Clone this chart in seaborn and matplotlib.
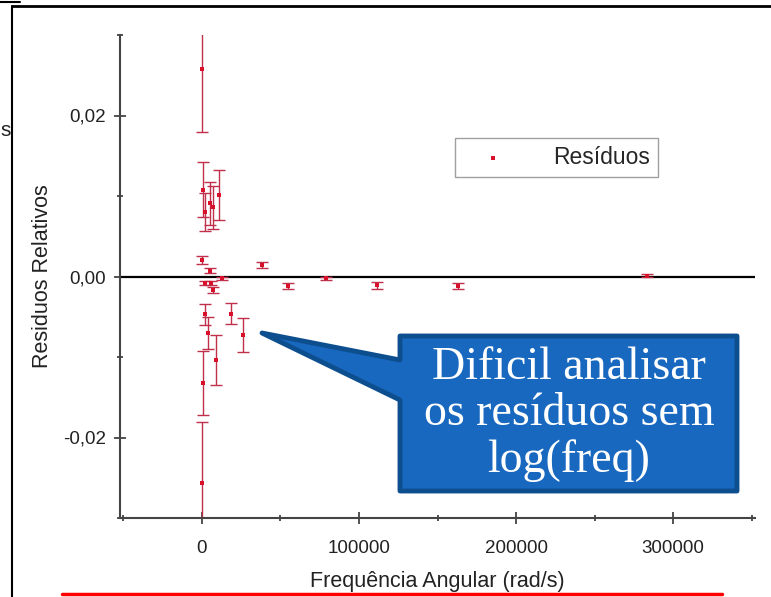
import numpy as np
import pandas as pd
import matplotlib
matplotlib.use("Agg")
import matplotlib.pyplot as plt
from matplotlib.ticker import MultipleLocator, FuncFormatter
from matplotlib.patches import Polygon
import seaborn as sns

# ---- data ----
freq = [300, 200, 600, 700, 1800, 5000, 7000, 11000, 100, 5000, 12500, 2000, 6000,
        7000, 2000, 3800, 18500, 26000, 9000, 38200, 54800, 79000, 111500, 163000, 283400]
resid = [0.0258, -0.0257, -0.0132, 0.0108, 0.0080, 0.0091, 0.0086, 0.0101, 0.0020,
         0.0007, -0.0002, -0.0008, -0.0008, -0.0017, -0.0047, -0.0070, -0.0046,
         -0.0073, -0.0104, 0.0014, -0.0012, -0.0002, -0.0011, -0.0012, 0.0001]
err = [0.0078, 0.0076, 0.0040, 0.0034, 0.0024, 0.0027, 0.0027, 0.0031, 0.0005,
       0.0003, 0.0002, 0.0003, 0.0003, 0.0004, 0.0013, 0.0020, 0.0013, 0.0021,
       0.0031, 0.0004, 0.0004, 0.0002, 0.0004, 0.0004, 0.0002]
legend_label = "Resíduos"
xlabel = "Frequência Angular (rad/s)"
ylabel = "Residuos Relativos"
callout = "Dificil analisar\nos resíduos sem\nlog(freq)"

df = pd.DataFrame({"freq": freq, "resid": resid, "err": err})

sns.set_style("ticks")
plt.rcParams["font.family"] = ["Liberation Sans", "DejaVu Sans"]

W, H = 771, 597
fig = plt.figure(figsize=(W / 100, H / 100), dpi=100)
ax = fig.add_axes([120 / W, 1 - 518 / H, (755 - 120) / W, (518 - 35) / H])

ax.errorbar(df["freq"], df["resid"], yerr=df["err"], fmt="none",
            ecolor="#c0304a", elinewidth=1.0, capsize=4, capthick=1.0, zorder=2)
sns.scatterplot(data=df, x="freq", y="resid", ax=ax, color="#d8102a", marker="s",
                s=8, edgecolor="#d8102a", linewidth=0, label=legend_label, zorder=3)
ax.axhline(0, color="black", lw=1.6, zorder=1)

ax.set_xlim(-52200, 352200)
ax.set_ylim(-0.03, 0.03)
ax.xaxis.set_major_locator(MultipleLocator(100000))
ax.xaxis.set_minor_locator(MultipleLocator(50000))
ax.yaxis.set_major_locator(MultipleLocator(0.02))
ax.yaxis.set_minor_locator(MultipleLocator(0.01))
ax.xaxis.set_major_formatter(FuncFormatter(lambda v, p: f"{int(round(v))}"))
ax.yaxis.set_major_formatter(FuncFormatter(lambda v, p: f"{v:.2f}".replace(".", ",")))

for s in ["top", "right"]:
    ax.spines[s].set_visible(False)
for s in ["left", "bottom"]:
    ax.spines[s].set_color("#444444")
    ax.spines[s].set_linewidth(1.5)
ax.tick_params(which="major", direction="inout", length=8, width=1.3, color="#444444",
               labelsize=13.5, labelcolor="#222222")
ax.tick_params(axis="x", which="major", pad=12)
ax.tick_params(axis="y", which="major", pad=6)
ax.tick_params(which="minor", direction="inout", length=5, width=1.3, color="#444444")

ax.set_xlabel(xlabel, fontsize=15.5, color="#222222", labelpad=10)
ax.set_ylabel(ylabel, fontsize=15.5, color="#222222", labelpad=7)

leg = ax.legend(loc="upper left", bbox_to_anchor=(0.528, 0.787), borderaxespad=0,
                fontsize=16.5, frameon=True, fancybox=False, edgecolor="#888888",
                handlelength=2.6, handletextpad=1.3, borderpad=0.35,
                markerscale=0.8)
leg.get_frame().set_linewidth(1.0)

# callout shape (figure pixel coords converted to fraction)
def fp(x, y):
    return (x / W, 1 - y / H)

pts = [fp(400, 336), fp(737, 336), fp(737, 491), fp(400, 491), fp(400, 400),
       fp(262, 333), fp(400, 360)]
poly = Polygon(pts, closed=True, transform=fig.transFigure, facecolor="#1868c0",
               edgecolor="#0d4e8e", lw=3.5, joinstyle="round", zorder=10)
fig.patches.append(poly)
fig.text(569 / W, 1 - 414 / H, callout, ha="center", va="center", color="white",
         fontsize=33, family=["Liberation Serif", "DejaVu Serif"], linespacing=1.12,
         zorder=11)

# slide frame elements
fig.add_artist(plt.Line2D([12 / W, 12 / W], [0, 1 - 6 / H], transform=fig.transFigure,
                          color="black", lw=1.5))
fig.add_artist(plt.Line2D([12 / W, 1], [1 - 6 / H, 1 - 6 / H], transform=fig.transFigure,
                          color="black", lw=2))
fig.add_artist(plt.Line2D([0, 20 / W], [1 - 2 / H, 1 - 2 / H], transform=fig.transFigure,
                          color="black", lw=1.5))
fig.add_artist(plt.Line2D([62 / W, 722 / W], [1 - 594 / H, 1 - 594 / H],
                          transform=fig.transFigure, color="#ff0000", lw=2.5))
fig.text(0, 1 - 130 / H, "s", fontsize=15, color="#222222", ha="left", va="center")

fig.savefig("out.png", dpi=100)
